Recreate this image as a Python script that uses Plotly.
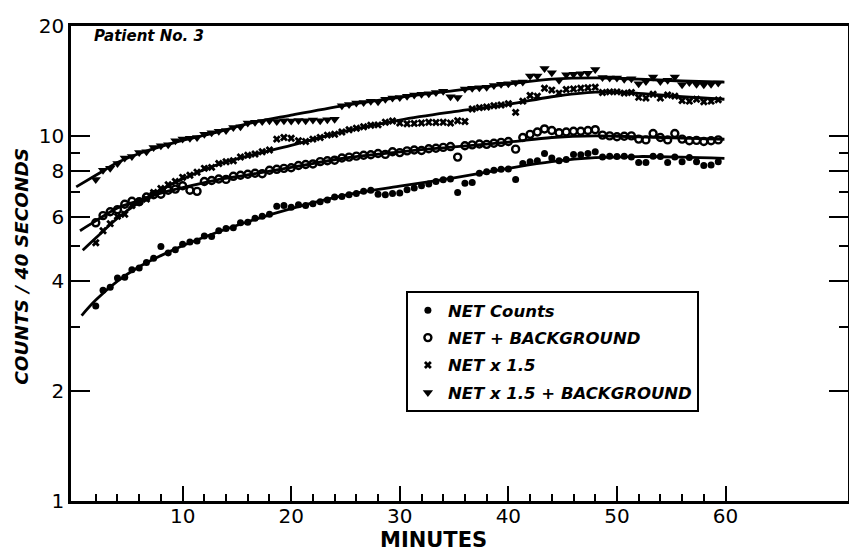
import plotly.graph_objects as go

# ---- data (time in minutes, counts / 40 s) ----
minutes = [
    2.0, 2.67, 3.33, 4.0, 4.67, 5.33, 6.0, 6.67, 7.33, 8.0, 8.67, 9.33,
    10.0, 10.67, 11.33, 12.0, 12.67, 13.33, 14.0, 14.67, 15.33, 16.0, 16.67, 17.33,
    18.0, 18.67, 19.33, 20.0, 20.67, 21.33, 22.0, 22.67, 23.33, 24.0, 24.67, 25.33,
    26.0, 26.67, 27.33, 28.0, 28.67, 29.33, 30.0, 30.67, 31.33, 32.0, 32.67, 33.33,
    34.0, 34.67, 35.33, 36.0, 36.67, 37.33, 38.0, 38.67, 39.33, 40.0, 40.67, 41.33,
    42.0, 42.67, 43.33, 44.0, 44.67, 45.33, 46.0, 46.67, 47.33, 48.0, 48.67, 49.33,
    50.0, 50.67, 51.33, 52.0, 52.67, 53.33, 54.0, 54.67, 55.33, 56.0, 56.67, 57.33,
    58.0, 58.67, 59.33,
]

net_counts = [
    3.42, 3.78, 3.85, 4.08, 4.10, 4.30, 4.35, 4.50, 4.62, 4.98, 4.78, 4.88,
    5.05, 5.12, 5.15, 5.32, 5.30, 5.50, 5.58, 5.60, 5.78, 5.80, 5.95, 6.02,
    6.10, 6.42, 6.45, 6.38, 6.48, 6.45, 6.52, 6.60, 6.68, 6.80, 6.82, 6.90,
    6.95, 7.05, 7.10, 6.92, 6.90, 6.95, 6.98, 7.12, 7.20, 7.30, 7.38, 7.50,
    7.58, 7.62, 7.00, 7.42, 7.45, 7.90, 7.98, 8.05, 8.10, 8.12, 7.60, 8.40,
    8.50, 8.55, 8.95, 8.70, 8.55, 8.62, 8.90, 8.88, 8.95, 9.05, 8.75, 8.80,
    8.78, 8.80, 8.75, 8.45, 8.45, 8.80, 8.78, 8.45, 8.76, 8.50, 8.72, 8.50,
    8.30, 8.32, 8.50,
]

net_plus_bg = [
    5.78, 6.05, 6.20, 6.28, 6.50, 6.62, 6.60, 6.80, 6.90, 6.92, 7.10, 7.15,
    7.30, 7.10, 7.05, 7.50, 7.55, 7.62, 7.60, 7.75, 7.80, 7.85, 7.90, 7.88,
    8.05, 8.10, 8.15, 8.18, 8.30, 8.35, 8.38, 8.50, 8.55, 8.58, 8.70, 8.75,
    8.80, 8.85, 8.88, 8.95, 8.90, 9.05, 9.00, 9.10, 9.15, 9.12, 9.22, 9.25,
    9.30, 9.35, 8.75, 9.40, 9.45, 9.50, 9.48, 9.55, 9.60, 9.65, 9.20, 9.90,
    10.10, 10.25, 10.45, 10.35, 10.20, 10.25, 10.30, 10.30, 10.35, 10.40, 10.05, 10.00,
    9.95, 9.98, 10.00, 9.80, 9.75, 10.15, 9.90, 9.75, 10.15, 9.80, 9.70, 9.72,
    9.65, 9.70, 9.75,
]

net_x15 = [
    5.10, 5.50, 5.75, 6.02, 6.10, 6.45, 6.60, 6.72, 7.00, 7.18, 7.35, 7.50,
    7.70, 7.80, 7.95, 8.15, 8.20, 8.40, 8.50, 8.55, 8.75, 8.85, 8.92, 9.05,
    9.15, 9.80, 9.90, 9.85, 9.70, 9.65, 9.80, 9.90, 10.05, 10.10, 10.25, 10.40,
    10.50, 10.60, 10.70, 10.72, 10.90, 10.98, 10.85, 10.80, 10.82, 10.85, 10.90, 10.88,
    10.90, 10.85, 11.00, 10.95, 11.85, 11.95, 12.00, 12.10, 12.15, 12.25, 11.60, 12.45,
    12.90, 12.85, 13.50, 13.35, 13.10, 13.40, 13.45, 13.50, 13.55, 13.60, 13.15, 13.20,
    13.20, 13.10, 13.15, 12.75, 12.70, 13.00, 12.70, 12.95, 12.85, 12.50, 12.45, 12.60,
    12.40, 12.45, 12.55,
]

net_x15_plus_bg = [
    7.60, 8.05, 8.15, 8.40, 8.70, 8.78, 9.00, 9.05, 9.30, 9.40, 9.45, 9.70,
    9.80, 9.85, 9.90, 10.10, 10.20, 10.30, 10.35, 10.55, 10.60, 10.85, 10.90, 10.95,
    11.00, 10.95, 11.00, 10.98, 11.02, 11.00, 11.05, 11.00, 11.08, 11.10, 12.10, 12.20,
    12.30, 12.35, 12.45, 12.40, 12.60, 12.70, 12.75, 12.85, 12.95, 13.00, 13.05, 13.15,
    13.25, 12.80, 12.75, 13.45, 13.50, 13.55, 13.60, 13.75, 13.85, 13.90, 14.00, 14.05,
    14.60, 14.60, 15.30, 14.90, 14.20, 14.70, 14.75, 14.80, 14.85, 15.20, 14.45, 14.40,
    14.40, 14.30, 14.35, 13.90, 14.10, 14.50, 14.10, 14.20, 14.50, 13.80, 14.00, 13.85,
    13.80, 13.85, 13.95,
]

# fitted smooth curves (knots)
fit_t_net = [0.7, 2, 4, 6, 8, 10, 13, 16, 20, 25, 30, 35, 40, 44, 48, 52, 56, 59.9]
fit_net = [3.22, 3.55, 4.0, 4.38, 4.7, 5.0, 5.42, 5.82, 6.32, 6.88, 7.28, 7.68, 8.15, 8.5, 8.72, 8.78, 8.75, 8.68]

fit_t_net_bg = [0.55, 2, 4, 6, 8, 10, 13, 16, 20, 25, 30, 35, 40, 44, 48, 52, 56, 59.9]
fit_net_bg = [5.5, 5.85, 6.35, 6.65, 6.97, 7.22, 7.56, 7.82, 8.2, 8.7, 9.04, 9.33, 9.62, 9.9, 10.0, 9.94, 9.86, 9.79]

fit_t_x15 = [0.8, 2, 4, 6, 8, 10, 13, 16, 20, 25, 30, 35, 40, 44, 48, 52, 56, 59.9]
fit_x15 = [4.86, 5.25, 5.95, 6.58, 7.12, 7.62, 8.3, 8.8, 9.42, 10.3, 11.05, 11.65, 12.2, 12.8, 13.18, 13.08, 12.8, 12.6]

fit_t_x15_bg = [0.2, 2, 4, 6, 8, 10, 13, 16, 20, 25, 30, 35, 40, 44, 48, 52, 56, 59.9]
fit_x15_bg = [7.25, 7.8, 8.45, 8.95, 9.35, 9.72, 10.2, 10.8, 11.4, 12.13, 12.75, 13.3, 13.88, 14.3, 14.42, 14.3, 14.14, 14.03]

x_tick_vals = [10, 20, 30, 40, 50, 60]
x_minor_vals = [2, 4, 6, 8, 12, 14, 16, 18, 22, 24, 26, 28, 32, 34, 36, 38,
                42, 44, 46, 48, 52, 54, 56, 58]
y_tick_vals = [1, 2, 4, 6, 8, 10, 20]
y_tick_text = ["1", "2", "4", "6", "8", "10", "20"]
y_minor_vals = [3, 5, 7, 9]

FONT = "DejaVu Sans"
INK = "black"

fig = go.Figure()

series = [
    ("NET Counts", net_counts, dict(symbol="circle", size=7, color=INK)),
    ("NET + BACKGROUND", net_plus_bg,
     dict(symbol="circle-open", size=7, color=INK, line=dict(width=2.4, color=INK))),
    ("NET x 1.5", net_x15, dict(symbol="x", size=7, color=INK, line=dict(width=0))),
    ("NET x 1.5 + BACKGROUND", net_x15_plus_bg,
     dict(symbol="triangle-down", size=9, color=INK, line=dict(width=0))),
]
for name, vals, marker in series:
    fig.add_trace(go.Scatter(
        x=minutes, y=vals, mode="markers", name=f"<b><i>{name}</i></b>",
        legendgroup=name, marker=marker,
    ))

for ft, fv in [(fit_t_net, fit_net), (fit_t_net_bg, fit_net_bg),
               (fit_t_x15, fit_x15), (fit_t_x15_bg, fit_x15_bg)]:
    fig.add_trace(go.Scatter(
        x=ft, y=fv, mode="lines", showlegend=False, hoverinfo="skip",
        line=dict(color=INK, width=2.8, shape="spline", smoothing=1.0),
    ))

axis_common = dict(
    showline=True, linecolor=INK, linewidth=2.5, showgrid=False, zeroline=False,
    ticks="inside", tickcolor=INK, tickwidth=2,
    tickfont=dict(family=FONT, size=20, color=INK),
)

# the page body has an 8px margin, so the figure is sized to fill the rest
fig.update_layout(
    width=849, height=544,
    margin=dict(l=63, r=6, t=16, b=51, pad=0),
    paper_bgcolor="white", plot_bgcolor="white",
    font=dict(family=FONT, color=INK),
    xaxis=dict(
        range=[-0.28, 71.28], tickmode="array", tickvals=x_tick_vals,
        ticklen=15, mirror=True, ticklabelstandoff=-5,
        minor=dict(tickmode="array", tickvals=x_minor_vals, ticks="inside",
                   ticklen=7, tickwidth=2, tickcolor=INK, showgrid=False),
        **axis_common,
    ),
    yaxis=dict(
        type="log", range=[0, 1.30103], tickmode="array",
        tickvals=y_tick_vals, ticktext=y_tick_text,
        ticklen=19, mirror="ticks", ticklabelstandoff=0,
        minor=dict(tickmode="array", tickvals=y_minor_vals, ticks="inside",
                   ticklen=9, tickwidth=2, tickcolor=INK, showgrid=False),
        **axis_common,
    ),
    legend=dict(
        x=0.431, y=0.4423, xanchor="left", yanchor="top",
        bgcolor="white", bordercolor=INK, borderwidth=2,
        font=dict(family=FONT, size=16.5, color=INK),
        itemsizing="trace", tracegroupgap=3,
    ),
    showlegend=True,
    annotations=[
        dict(text="<b><i>Patient No. 3</i></b>", xref="paper", yref="paper",
             x=0.027, y=0.979, xanchor="left", yanchor="middle", showarrow=False,
             font=dict(family=FONT, size=15, color=INK)),
        dict(text="<b>MINUTES</b>", xref="x", yref="paper",
             x=33.1, y=-0.082, xanchor="center", yanchor="middle", showarrow=False,
             font=dict(family=FONT, size=21, color=INK)),
        dict(text="<b><i>COUNTS / 40 SECONDS</i></b>", xref="paper", yref="paper",
             x=-0.063, y=0.493, xanchor="center", yanchor="middle", showarrow=False,
             textangle=-90, font=dict(family=FONT, size=18.5, color=INK)),
    ],
)

fig.write_html("out.html")
